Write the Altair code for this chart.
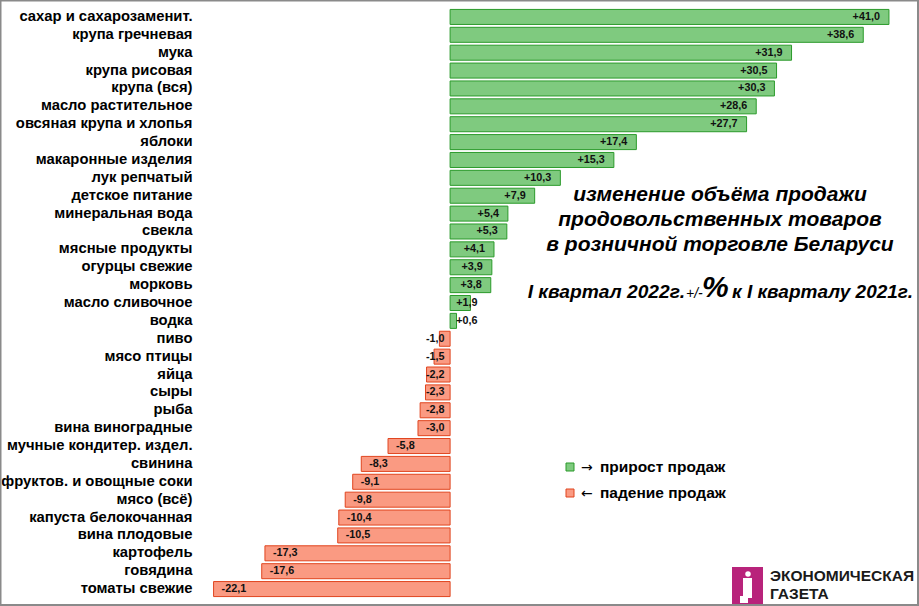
import altair as alt
import pandas as pd

categories = [
    "сахар и сахарозаменит.", "крупа гречневая", "мука", "крупа рисовая", "крупа (вся)",
    "масло растительное", "овсяная крупа и хлопья", "яблоки", "макаронные изделия",
    "лук репчатый", "детское питание", "минеральная вода", "свекла", "мясные продукты",
    "огурцы свежие", "морковь", "масло сливочное", "водка", "пиво", "мясо птицы", "яйца",
    "сыры", "рыба", "вина виноградные", "мучные кондитер. издел.", "свинина",
    "фруктов. и овощные соки", "мясо (всё)", "капуста белокочанная", "вина плодовые",
    "картофель", "говядина", "томаты свежие",
]
values = [
    41.0, 38.6, 31.9, 30.5, 30.3, 28.6, 27.7, 17.4, 15.3, 10.3, 7.9, 5.4, 5.3, 4.1, 3.9,
    3.8, 1.9, 0.6, -1.0, -1.5, -2.2, -2.3, -2.8, -3.0, -5.8, -8.3, -9.1, -9.8, -10.4,
    -10.5, -17.3, -17.6, -22.1,
]
title_lines = ["изменение объёма продажи", "продовольственных товаров", "в розничной торговле Беларуси"]
legend_arrows = ["→", "←"]
legend_labels = ["прирост продаж", "падение продаж"]

FONT = "Liberation Sans"
GREEN_FILL, GREEN_STROKE = "#7fca7f", "#2b9a2b"
RED_FILL, RED_STROKE = "#fa9a82", "#e0451f"

# plot area origin in page px
OX, OY = 205, 8
W, H = 700, 590


def X(px):
    return px - OX


def Y(py):
    return py - OY


df = pd.DataFrame({"cat": categories, "v": values})
df["sign"] = ["pos" if v > 0 else "neg" for v in values]
df["lab"] = [("+" if v > 0 else "") + f"{v:.1f}".replace(".", ",") for v in values]

xscale = alt.Scale(domain=[-22.9, 42.5], nice=False, zero=False)
yenc = alt.Y("cat:N", sort=categories, title=None,
             scale=alt.Scale(paddingInner=0.16, paddingOuter=0.08),
             axis=alt.Axis(ticks=False, domain=False, labelFont=FONT, labelFontSize=14.8,
                           labelFontWeight="bold", labelColor="#000", labelPadding=13,
                           labelLimit=400))

base = alt.Chart(df)

bars = base.mark_bar(strokeWidth=1).encode(
    x=alt.X("v:Q", scale=xscale, axis=None),
    x2=alt.datum(0),
    y=yenc,
    fill=alt.Fill("sign:N", scale=alt.Scale(domain=["pos", "neg"], range=[GREEN_FILL, RED_FILL]), legend=None),
    stroke=alt.Stroke("sign:N", scale=alt.Scale(domain=["pos", "neg"], range=[GREEN_STROKE, RED_STROKE]), legend=None),
)

pos_text = base.transform_filter("datum.v > 0").transform_calculate(
    lx="max(datum.v, 3.4)"
).mark_text(align="right", dx=-9, font=FONT, fontSize=10.8, fontWeight="bold", color="#111").encode(
    x=alt.X("lx:Q", scale=xscale, axis=None), y=alt.Y("cat:N", sort=categories), text="lab:N")

neg_text = base.transform_filter("datum.v < 0").transform_calculate(
    lx="min(datum.v, -3.0)"
).mark_text(align="left", dx=8, font=FONT, fontSize=10.8, fontWeight="bold", color="#111").encode(
    x=alt.X("lx:Q", scale=xscale, axis=None), y=alt.Y("cat:N", sort=categories), text="lab:N")


def txt(s, px, py, size, align="center", weight="bold", style="normal", color="#000", font=FONT):
    return alt.Chart(pd.DataFrame({"t": [s]})).mark_text(
        align=align, baseline="middle", font=font, fontSize=size, fontWeight=weight,
        fontStyle=style, color=color,
    ).encode(x=alt.value(X(px)), y=alt.value(Y(py)), text="t:N")


def box(x1, y1, x2, y2, fill, stroke=None, sw=1):
    kw = dict(fill=fill, strokeWidth=sw)
    if stroke:
        kw["stroke"] = stroke
    return alt.Chart(pd.DataFrame({"a": [0]})).mark_rect(**kw).encode(
        x=alt.value(X(x1)), x2=alt.value(X(x2)), y=alt.value(Y(y1)), y2=alt.value(Y(y2)))


layers = [bars, pos_text, neg_text]
# title
for i, line in enumerate(title_lines):
    layers.append(txt(line, 720, 195 + i * 25, 21, style="italic"))
layers += [
    txt("I квартал 2022г.", 685, 292, 19.2, align="right", style="italic"),
    txt("+/-", 686, 294, 14, align="left", style="italic", weight="normal"),
    txt("%", 702, 288, 30, align="left", style="italic"),
    txt("к I кварталу 2021г.", 732, 292, 19, align="left", style="italic"),
]
# legend
layers += [
    box(566, 463, 574, 471, GREEN_FILL, GREEN_STROKE),
    txt(legend_arrows[0], 581, 468, 14, align="left", weight="normal", font="DejaVu Sans"),
    txt(legend_labels[0], 600, 467, 15.5, align="left"),
    box(566, 489, 574, 497, RED_FILL, RED_STROKE),
    txt(legend_arrows[1], 581, 494, 14, align="left", weight="normal", font="DejaVu Sans"),
    txt(legend_labels[1], 600, 493, 15.5, align="left"),
]
# logo
layers += [
    box(732, 567, 763, 606, "#b8237b"),
    box(743, 578, 752, 598, "white"),
    box(740, 596, 748, 603, "white"),
    alt.Chart(pd.DataFrame({"a": [0]})).mark_point(filled=True, fill="white", size=30, opacity=1).encode(
        x=alt.value(X(748)), y=alt.value(Y(574))),
    txt("ЭКОНОМИЧЕСКАЯ", 770, 576, 15.5, align="left", color="#1a1a1a"),
    txt("ГАЗЕТА", 770, 594, 15.5, align="left", color="#1a1a1a"),
]
# outer frame
layers.append(box(0.5, 0.5, 918, 605, "transparent", "#8a8a8a", 2))

chart = alt.layer(*layers).properties(
    width=W, height=H,
    padding={"left": OX, "top": OY, "right": 919 - OX - W, "bottom": 606 - OY - H},
    autosize=alt.AutoSizeParams(type="none"),
    background="white",
).configure_view(stroke=None)

chart.save("out.html", embed_options={"renderer": "svg", "actions": False})
